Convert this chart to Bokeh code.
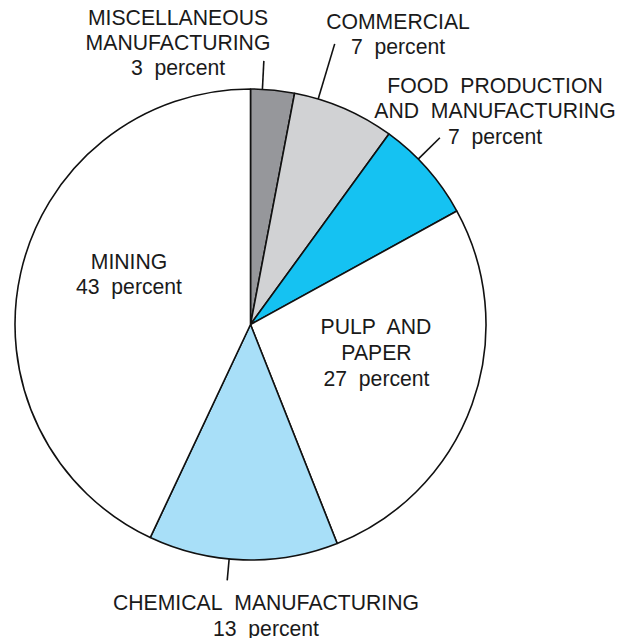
import numpy as np
from bokeh.plotting import figure
from bokeh.models import Range1d
from bokeh.core.properties import value
from bokeh.embed import file_html
from bokeh.resources import INLINE

# ---- data ----
categories = ["MISCELLANEOUS\nMANUFACTURING", "COMMERCIAL",
              "FOOD  PRODUCTION\nAND  MANUFACTURING", "PULP  AND\nPAPER",
              "CHEMICAL  MANUFACTURING", "MINING"]
percents = [3, 7, 7, 27, 13, 43]
colors = ["#96979b", "#d1d2d4", "#15c2f2", "#ffffff", "#a8dff8", "#ffffff"]

# ---- layout (screen px of the picture) ----
W, H = 624, 638
CX, CY_S, R = 250, 324, 235.5
TEXT_SHIFT = 7.5  # compensates the svg baseline offset


def yd(ys):
    return H - ys


p = figure(width=W, height=H, output_backend="svg", toolbar_location=None,
           x_range=Range1d(0, W), y_range=Range1d(0, H),
           min_border=0)
p.axis.visible = False
p.grid.visible = False
p.outline_line_color = None
p.background_fill_color = "white"
p.border_fill_color = "white"

pct = np.array(percents, dtype=float)
cum = np.concatenate([[0], np.cumsum(pct)])
start = np.deg2rad(90 - cum[:-1] * 3.6)
end = np.deg2rad(90 - cum[1:] * 3.6)

p.wedge(x=[CX] * len(pct), y=[yd(CY_S)] * len(pct), radius=R,
        start_angle=list(start), end_angle=list(end), direction="clock",
        fill_color=colors, line_color="#111111", line_width=1.6)

# leader lines (angle in degrees, inner r, outer r)
leaders = [(87.1, R, 264), (73.3, R, 293), (44.6, R, 266), (-95.2, R, 257)]
for ang, r0, r1 in leaders:
    a = np.deg2rad(ang)
    p.line([CX + r0 * np.cos(a), CX + r1 * np.cos(a)],
           [yd(CY_S) + r0 * np.sin(a), yd(CY_S) + r1 * np.sin(a)],
           line_color="#111111", line_width=1.6)

# label placement: center x, baseline of first line, line step
label_pos = [(177.5, 24, 25), (397.5, 28, 25), (494.5, 92, 25.5),
             (376, 333, 26), (265.5, 609, 26), (128.5, 268, 25)]

xs, ys, txt = [], [], []
for cat, v, (lx, by, step) in zip(categories, percents, label_pos):
    lines = cat.split("\n") + [f"{v}\u00a0 percent"]
    for i, ln in enumerate(lines):
        xs.append(lx)
        ys.append(yd(by + i * step - TEXT_SHIFT))
        txt.append(ln.replace("  ", "\u00a0 "))

p.text(x=xs, y=ys, text=txt, text_align="center", text_baseline="alphabetic",
       text_font=value("Liberation Sans"), text_font_size="21.2px",
       text_color="#1a1a1a")

open("out.html", "w").write(file_html(p, INLINE))
